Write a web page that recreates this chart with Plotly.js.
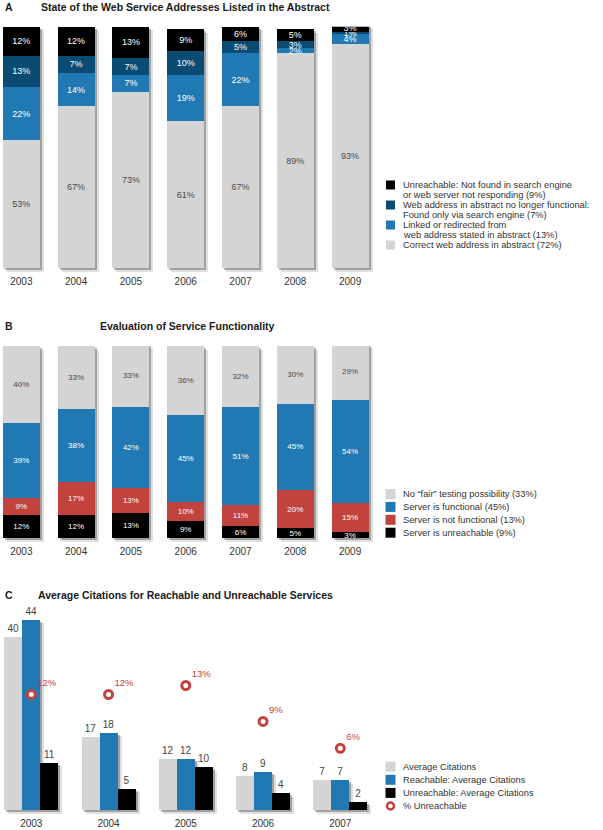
<!DOCTYPE html>
<html><head><meta charset="utf-8">
<script src="https://cdn.plot.ly/plotly-3.0.1.min.js"></script>
<style>html,body{margin:0;padding:0;background:#fff}</style>
</head><body><div id="chart" style="width:603px;height:830px"></div>
<script>
// ---------- data ----------
const yearsAB = ['2003','2004','2005','2006','2007','2008','2009'];
// Panel A (bottom -> top)
const aCorrect     = [53, 67, 73, 61, 67, 89, 93];
const aLinked      = [22, 14,  7, 19, 22,  2,  4];
const aNoLonger    = [13,  7,  7, 10,  5,  3,  1];
const aUnreachable = [12, 12, 13,  9,  6,  5,  3];
const aNames = [
  'Correct web address in abstract (72%)',
  'Linked or redirected from<br>web address stated in abstract (13%)',
  'Web address in abstract no longer functional:<br>Found only via search engine (7%)',
  'Unreachable: Not found in search engine<br>or web server not responding (9%)'
];
// Panel B (bottom -> top)
const bUnreachable   = [12, 12, 13,  9,  6,  5,  3];
const bNotFunctional = [ 9, 17, 13, 10, 11, 20, 15];
const bFunctional    = [39, 38, 42, 45, 51, 45, 54];
const bNoFair        = [40, 33, 33, 36, 32, 30, 29];
const bNames = [
  'Server is unreachable (9%)',
  'Server is not functional (13%)',
  'Server is functional (45%)',
  'No \u201cfair\u201d testing possibility (33%)'
];
// Panel C
const yearsC = ['2003','2004','2005','2006','2007'];
const cAverage     = [40, 17, 12, 8, 7];
const cReachable   = [44, 18, 12, 9, 7];
const cUnreachable = [11,  5, 10, 4, 2];
const cPctUnreach  = [12, 12, 13, 9, 6];
const cNames = ['Average Citations','Reachable: Average Citations','Unreachable: Average Citations','% Unreachable'];

// ---------- styles ----------
const GRAY='#d4d4d4', BLUE='#2179b3', NAVY='#0b4a72', BLACK='#000000', RED='#c2423e';
const W=603, H=830;
const px=x=>x/W, py=y=>1-y/H;
const FONT='Liberation Sans, Arial, Helvetica, sans-serif';

const traces=[];
function shadowTraces(xa, ya, x, tops, width, offset, unitX, unitY){
  const layers=[[2,2,'rgba(0,0,0,0.28)'],[4,3.5,'rgba(0,0,0,0.12)']];
  layers.slice().reverse().forEach(([dx,dy,c])=>{
    traces.push({type:'bar', xaxis:xa, yaxis:ya, x:x, y:tops, base:tops.map(()=>-dy*unitY),
      width:width, offset:offset+dx*unitX, marker:{color:c,line:{width:0}},
      hoverinfo:'skip', showlegend:false});
  });
}
function stackPanel(xa, ya, series, colors, txtColors, names, fsize, unitX, unitY){
  const n=series[0].length;
  const totals=new Array(n).fill(0);
  series.forEach(s=>s.forEach((v,i)=>totals[i]+=v));
  const width=0.675, offset=-0.3375;
  shadowTraces(xa, ya, yearsAB, totals, width, offset, unitX, unitY);
  const base=new Array(n).fill(0);
  series.forEach((s,k)=>{
    traces.push({type:'bar', xaxis:xa, yaxis:ya, name:names[k].replace('<br>',' '),
      x:yearsAB, y:s, base:base.slice(), width:width, offset:offset,
      marker:{color:colors[k],line:{width:0}},
      text:s.map(v=>v+'%'), textposition:'inside', insidetextanchor:'middle',
      textangle:0, constraintext:'none',
      insidetextfont:{size:fsize,color:txtColors[k],family:FONT},
      hoverinfo:'skip', showlegend:false});
    s.forEach((v,i)=>base[i]+=v);
  });
}
// Panel A
stackPanel('x','y',[aCorrect,aLinked,aNoLonger,aUnreachable],[GRAY,BLUE,NAVY,BLACK],
  ['#4a4a4a','#ffffff','#ffffff','#ffffff'], aNames, 9, 1/54.8, 1/2.416);
// Panel B
stackPanel('x2','y2',[bUnreachable,bNotFunctional,bFunctional,bNoFair],[BLACK,RED,BLUE,GRAY],
  ['#ffffff','#ffffff','#ffffff','#4a4a4a'], bNames, 8, 1/54.8, 1/1.92);
// Panel C
const cSeries=[cAverage,cReachable,cUnreachable], cColors=[GRAY,BLUE,BLACK];
const cw=0.233, cOff=[-0.3495,-0.1165,0.1165];
cSeries.forEach((s,k)=>shadowTraces('x3','y3',yearsC,s,cw,cOff[k],1/77.25,1/4.33));
cSeries.forEach((s,k)=>{
  traces.push({type:'bar', xaxis:'x3', yaxis:'y3', name:cNames[k], x:yearsC, y:s,
    width:cw, offset:cOff[k], marker:{color:cColors[k],line:{width:0}},
    text:s.map(String), textposition:'outside', constraintext:'none', cliponaxis:false,
    outsidetextfont:{size:10,color:'#444',family:FONT}, hoverinfo:'skip', showlegend:false});
});
traces.push({type:'scatter', mode:'markers+text', xaxis:'x3', yaxis:'y4', name:cNames[3],
  x:yearsC, y:cPctUnreach, text:cPctUnreach.map(v=>v+'%'), textposition:'top right',
  textfont:{size:9.5,color:RED,family:FONT}, cliponaxis:false,
  marker:{symbol:'circle',size:8,color:'#ffffff',line:{color:RED,width:3}},
  hoverinfo:'skip', showlegend:false});

// ---------- legends / titles ----------
const shapes=[], annotations=[];
function legend(names, colors, x0, y0, rowH, lineH, sw, kinds){
  let line=0;
  names.forEach((nm,i)=>{
    const yc = y0 + (lineH ? line*lineH : i*rowH);
    if(kinds && kinds[i]==='ring'){
      shapes.push({type:'circle',xref:'paper',yref:'paper',x0:px(x0+1.5),x1:px(x0+8.5),
        y0:py(yc+3.5),y1:py(yc-3.5),fillcolor:'#fff',line:{color:colors[i],width:2.5}});
    } else {
      shapes.push({type:'rect',xref:'paper',yref:'paper',x0:px(x0),x1:px(x0+sw),
        y0:py(yc+sw/2),y1:py(yc-sw/2),fillcolor:colors[i],line:{width:0}});
    }
    nm.split('<br>').forEach((t,j)=>{
      annotations.push({xref:'paper',yref:'paper',x:px(x0+15),y:py(yc+j*(lineH||rowH)),
        xanchor:'left',yanchor:'middle',showarrow:false,text:t,
        font:{size:9.3,color:'#333',family:FONT}});
      line++;
    });
  });
}
legend(aNames.slice().reverse(), [BLACK,NAVY,BLUE,GRAY], 386, 185, 20, 10, 9);
legend(bNames.slice().reverse(), [GRAY,BLUE,RED,BLACK], 385.5, 494, 12.9, 0, 10);
legend(cNames, [GRAY,BLUE,BLACK,RED], 385.5, 766.7, 13.1, 0, 10, ['sq','sq','sq','ring']);

function title(letter, text, xl, xt, y){
  annotations.push({xref:'paper',yref:'paper',x:px(xl),y:py(y),xanchor:'left',yanchor:'middle',
    showarrow:false,text:'<b>'+letter+'</b>',font:{size:10.5,color:'#1a1a1a',family:FONT}});
  annotations.push({xref:'paper',yref:'paper',x:px(xt),y:py(y),xanchor:'left',yanchor:'middle',
    showarrow:false,text:'<b>'+text+'</b>',font:{size:10.5,color:'#1a1a1a',family:FONT}});
}
title('A','State of the Web Service Addresses Listed in the Abstract',3,39,7);
title('B','Evaluation of Service Functionality',3,98,326);
title('C','Average Citations for Reachable and Unreachable Services',3,36,595);

const xBase={type:'category',showgrid:false,zeroline:false,showline:false,ticks:'',
  ticklabelstandoff:2,tickfont:{size:10,color:'#333',family:FONT},fixedrange:true};
const yBase={showgrid:false,zeroline:false,showline:false,showticklabels:false,ticks:'',fixedrange:true};
const layout={
  width:W,height:H,margin:{l:0,r:0,t:0,b:0},paper_bgcolor:'#fff',plot_bgcolor:'rgba(0,0,0,0)',
  barmode:'group',bargap:0,showlegend:false,font:{family:FONT,color:'#333'},
  xaxis: Object.assign({},xBase,{domain:[0,px(380)],range:[-0.389,6.546],anchor:'y'}),
  yaxis: Object.assign({},yBase,{domain:[py(272.3),py(26.7)],range:[-1.66,100],anchor:'x'}),
  xaxis2:Object.assign({},xBase,{domain:[0,px(380)],range:[-0.389,6.546],anchor:'y2'}),
  yaxis2:Object.assign({},yBase,{domain:[py(542),py(346)],range:[-2.08,100],anchor:'x2'}),
  xaxis3:Object.assign({},xBase,{domain:[0,px(380)],range:[-0.405,4.514],anchor:'y3'}),
  yaxis3:Object.assign({},yBase,{domain:[py(814),py(610)],range:[-0.81,46.3],anchor:'x3'}),
  yaxis4:Object.assign({},yBase,{overlaying:'y3',range:[-1.31,21.41],anchor:'x3'}),
  shapes:shapes, annotations:annotations
};
Plotly.newPlot('chart',traces,layout,{staticPlot:true,displayModeBar:false});
</script></body></html>
